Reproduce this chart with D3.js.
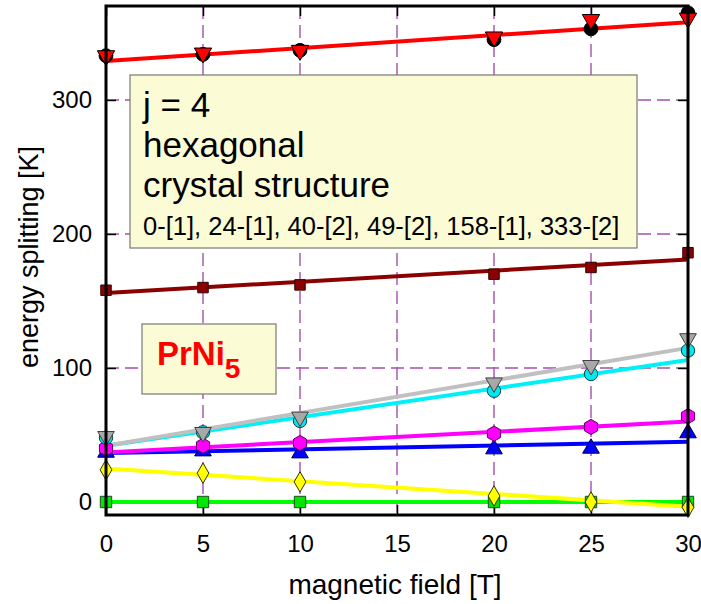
<!DOCTYPE html>
<html>
<head>
<meta charset="utf-8">
<script src="https://cdn.jsdelivr.net/npm/d3@7/dist/d3.min.js"></script>
<style>
  html, body { margin: 0; padding: 0; background: #fff; }
  text { font-family: "Liberation Sans", Arial, sans-serif; }
</style>
</head>
<body>
<svg id="chart" width="701" height="604"></svg>
<script>
// Field values (T) at which levels were computed
const fields = [0, 5, 10, 20, 25, 30];

// Energy levels (K) per state
const greenSq   = [0, 0, 0, 0, 0, 0];
const yellowDia = [24, 21.5, 15, 4.5, 0, -4];
const blueTri   = [37, 38, 36.5, 39.5, 40, 51.5];
const magHex    = [40, 42, 44, 51, 56, 64];
const cyanCirc  = [48, 52, 60.5, 83, 95.5, 113];
const grayTri   = [49, 52, 63.5, 89, 102, 122];
const maroonSq  = [158, 160, 162, 170, 175, 186];
const blackCirc = [333, 334, 337, 345, 353, 365];
const redTri    = [333, 335, 337, 347, 360, 361];

// Linear trend lines: value at 0 T and at 30 T
const fitEnds = [0, 30];
const greenFit  = [0, 0];
const yellowFit = [25, -3.5];
const blueFit   = [36.5, 45];
const magFit    = [37, 60];
const cyanFit   = [42, 106];
const grayFit   = [42, 115];
const maroonFit = [156, 181];
const redFit    = [329, 358];

const xTicks = [0, 5, 10, 15, 20, 25, 30];
const yTicks = [0, 100, 200, 300];

const svg = d3.select("#chart");
const L = 106, R = 688, T = 6, B = 515;

const x = d3.scaleLinear().domain([0, 30]).range([L, R]);
const y = d3.scaleLinear().domain([-9.7, 370.1]).range([B, T]);

// Dashed grid
const gridColor = "#a450ac";
svg.append("g").selectAll("line").data(xTicks.filter(d => d > 0 && d < 30)).join("line")
  .attr("x1", d => x(d)).attr("x2", d => x(d)).attr("y1", T).attr("y2", B)
  .attr("stroke", gridColor).attr("stroke-width", 1.4).attr("stroke-dasharray", "13,6");
svg.append("g").selectAll("line").data(yTicks.filter(d => d > 0)).join("line")
  .attr("x1", L).attr("x2", R).attr("y1", d => y(d)).attr("y2", d => y(d))
  .attr("stroke", gridColor).attr("stroke-width", 1.4).attr("stroke-dasharray", "13,6");

// Axes with inward ticks
const tickLen = 10;
const axB = svg.append("g").attr("transform", `translate(0,${B})`)
  .call(d3.axisBottom(x).tickValues(xTicks).tickSizeInner(-tickLen).tickSizeOuter(0).tickPadding(20));
const axT = svg.append("g").attr("transform", `translate(0,${T})`)
  .call(d3.axisTop(x).tickValues(xTicks).tickSizeInner(-tickLen).tickSizeOuter(0).tickFormat(""));
const axL = svg.append("g").attr("transform", `translate(${L},0)`)
  .call(d3.axisLeft(y).tickValues(yTicks).tickSizeInner(-tickLen).tickSizeOuter(0).tickPadding(14));
const axR = svg.append("g").attr("transform", `translate(${R},0)`)
  .call(d3.axisRight(y).tickValues(yTicks).tickSizeInner(-tickLen).tickSizeOuter(0).tickFormat(""));
[axB, axT, axL, axR].forEach(g => {
  g.select(".domain").remove();
  g.selectAll(".tick line").attr("stroke", "#000").attr("stroke-width", 1.5);
  g.selectAll("text").attr("font-size", 24).attr("fill", "#000")
    .style("font-family", '"Liberation Sans", Arial, sans-serif');
});

// Info boxes
const info = svg.append("g");
info.append("rect").attr("x", 130).attr("y", 75).attr("width", 507).attr("height", 173)
  .attr("fill", "#fbfbd6").attr("stroke", "#7a7a70").attr("stroke-width", 1.2);
const infoLines = [
  { t: "j = 4", y: 117, s: 35 },
  { t: "hexagonal", y: 157, s: 35 },
  { t: "crystal structure", y: 197, s: 35 },
  { t: "0-[1], 24-[1], 40-[2], 49-[2], 158-[1], 333-[2]", y: 235, s: 25.5 }
];
info.selectAll("text").data(infoLines).join("text")
  .attr("x", 143).attr("y", d => d.y).attr("font-size", d => d.s).text(d => d.t);

const comp = svg.append("g");
comp.append("rect").attr("x", 142).attr("y", 324).attr("width", 134).attr("height", 70)
  .attr("fill", "#fbfbd6").attr("stroke", "#7a7a70").attr("stroke-width", 1.2);
const ct = comp.append("text").attr("x", 157).attr("y", 365)
  .attr("font-size", 33).attr("font-weight", "bold").attr("fill", "#ff0000");
ct.append("tspan").text("PrNi");
ct.append("tspan").attr("dy", 13).attr("font-size", 28).text("5");

// Trend lines
const fits = [
  { v: greenFit, c: "#00ff00" },
  { v: yellowFit, c: "#ffff00" },
  { v: blueFit, c: "#0000ff" },
  { v: magFit, c: "#ff00ff" },
  { v: cyanFit, c: "#00f0f8" },
  { v: grayFit, c: "#c0c0c0" },
  { v: maroonFit, c: "#8b0000" },
  { v: redFit, c: "#ff0000" }
];
const line = d3.line().x(d => x(d[0])).y(d => y(d[1]));
svg.append("g").selectAll("path").data(fits).join("path")
  .attr("d", d => line(fitEnds.map((f, i) => [f, d.v[i]])))
  .attr("fill", "none").attr("stroke", d => d.c).attr("stroke-width", 4);

// Hexagon symbol type
const symbolHexagon = {
  draw(ctx, size) {
    const r = Math.sqrt(size / (1.5 * Math.sqrt(3)));
    for (let i = 0; i < 6; i++) {
      const a = Math.PI / 6 + i * Math.PI / 3;
      const px = r * Math.cos(a), py = r * Math.sin(a);
      if (i === 0) ctx.moveTo(px, py); else ctx.lineTo(px, py);
    }
    ctx.closePath();
  }
};

const series = [
  { v: greenSq, type: d3.symbolSquare, size: 130, fill: "#00e600", stroke: "#1a4d1a", rot: 0 },
  { v: yellowDia, type: d3.symbolDiamond, size: 120, fill: "#ffff00", stroke: "#333300", rot: 0 },
  { v: blueTri, type: d3.symbolTriangle, size: 120, fill: "#0000ff", stroke: "#000044", rot: 0 },
  { v: magHex, type: symbolHexagon, size: 150, fill: "#ff00ff", stroke: "#550055", rot: 0 },
  { v: cyanCirc, type: d3.symbolCircle, size: 140, fill: "#00e8f0", stroke: "#004040", rot: 0 },
  { v: grayTri, type: d3.symbolTriangle, size: 120, fill: "#a8a8a8", stroke: "#404040", rot: 180 },
  { v: maroonSq, type: d3.symbolSquare, size: 110, fill: "#8b0000", stroke: "#300000", rot: 0 },
  { v: blackCirc, type: d3.symbolCircle, size: 150, fill: "#000000", stroke: "#000000", rot: 0 },
  { v: redTri, type: d3.symbolTriangle, size: 130, fill: "#ff0000", stroke: "#000000", rot: 180 }
];
const marks = svg.append("g");
series.forEach(s => {
  marks.append("g").selectAll("path").data(fields.map((f, i) => [f, s.v[i]])).join("path")
    .attr("transform", d => `translate(${x(d[0])},${y(d[1])}) rotate(${s.rot})`)
    .attr("d", d3.symbol().type(s.type).size(s.size))
    .attr("fill", s.fill).attr("stroke", s.stroke).attr("stroke-width", 1);
});

// Frame
svg.append("rect").attr("x", L).attr("y", T).attr("width", R - L).attr("height", B - T)
  .attr("fill", "none").attr("stroke", "#000").attr("stroke-width", 3);

// Axis titles
svg.append("text").attr("x", 395).attr("y", 594).attr("text-anchor", "middle")
  .attr("font-size", 28).text("magnetic field [T]");
svg.append("text").attr("transform", `translate(38,257) rotate(-90)`).attr("text-anchor", "middle")
  .attr("font-size", 27).text("energy splitting [K]");
</script>
</body>
</html>
